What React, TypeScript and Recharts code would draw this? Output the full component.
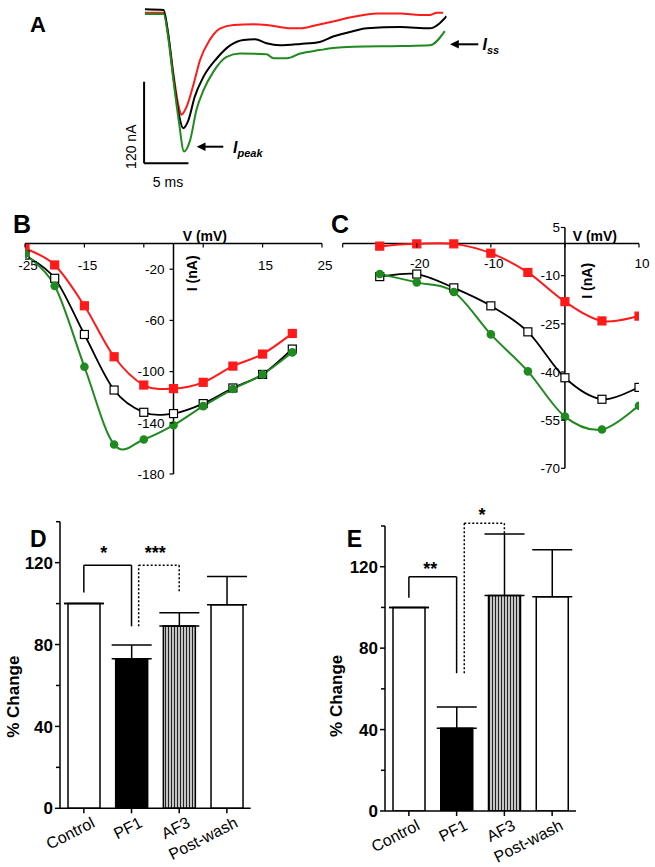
import React from "react"
import { LineChart, Line, XAxis, YAxis, ReferenceLine, ReferenceDot, BarChart, Bar, Cell, ErrorBar } from "recharts"

const FONT = '"Liberation Sans", Arial, Helvetica, sans-serif'
const RED = "#ff1a1a"
const GREEN = "#1f8a1f"

// Panel A: current traces, [time (ms), current (nA)]
const traceRed = [[0, 0], [2.1, 0], [2.6, -30], [3.2, -89], [3.8, -138], [4.1, -150], [4.7, -138], [5.5, -104], [6.2, -70], [7.3, -40], [8.5, -23], [10, -18], [12.2, -17], [13.7, -18], [16.4, -23], [17.5, -23], [19.4, -18], [21.2, -13], [23.5, -6], [26.1, -1], [28.8, -1], [31, -3.4], [32.1, -3.4], [32.9, 0], [33.6, 0]]
const traceBlack = [[0, 4.9], [2.1, 3.9], [2.6, -30], [3.2, -94], [3.8, -148], [4.3, -170], [4.9, -158], [5.6, -124], [6.6, -94], [8.1, -67], [9.6, -48], [11.1, -40], [12.4, -39], [13.7, -45], [15.2, -48], [17.5, -46], [19.7, -43], [21.2, -35], [23.5, -27], [25, -23], [28.8, -21], [32.1, -23], [34, -5]]
const traceGreen = [[0, -2], [2.1, -2], [2.6, -35], [3.2, -99], [3.8, -158], [4.4, -204], [5.1, -187], [5.8, -143], [6.6, -114], [7.7, -87], [9.2, -65], [10.7, -60], [13.7, -61], [14.5, -67], [16, -67], [17.5, -60], [19.7, -55], [21.2, -52], [23.5, -50], [28.8, -49], [32.1, -48], [33.8, -27]]
const SCALE_NA = 120
const SCALE_MS = 5
const scaleCorner = { t: -0.1, i: -221.5 }

// Panel B: I-V, peak current
const bVolt = [-25, -20, -15, -10, -5, 0, 5, 10, 15, 20]
const bRed = [-3.5, -16.7, -48.6, -88.4, -110.5, -113.3, -108.4, -95.7, -86.3, -70.2]
const bBlack = [-9, -27.1, -71, -114.4, -131.8, -132.8, -125, -112.8, -102.2, -82.4]
const bGreen = [-8, -33, -96.2, -157, -153, -141.9, -127, -113.6, -102.2, -85]
const bXTicks = [-25, -15, -5, 5, 15, 25]
const bXLabels = [-25, -15, 15, 25]
const bYTicks = [-20, -60, -100, -140, -180]

// Panel C: I-V, steady-state current
const cVolt = [-25, -20, -15, -10, -5, 0, 5, 10]
const cRed = [-0.8, -0.1, -0.1, -3, -9, -18.1, -24.1, -22.6]
const cBlack = [-10.3, -9.5, -13.8, -19.4, -27.5, -41.8, -48.5, -44.8]
const cGreen = [-9.5, -12.1, -15.1, -28.3, -39.8, -53.9, -57.9, -50.5]
const cXTicks = [-30, -20, -10, 0, 10]
const cXLabels = [-20, -10, 10]
const cYTicks = [5, -10, -25, -40, -55, -70]

// Panels D and E: % change
const groups = ["Control", "PF1", "AF3", "Post-wash"]
const dMean = [100, 73, 89, 99.4]
const dErr = [0, 6.8, 6.5, 13.8]
const eMean = [100, 40.6, 105.8, 105.3]
const eErr = [0, 10.5, 30.3, 23]
// brackets: x in bar index units, y in % change
const dBrackets = [
    { x1: 0, x2: 1, y1: 105.4, top: 118.7, y2: 88.9, dashed: false },
    { x1: 1.15, x2: 2, y1: 88.9, top: 118.7, y2: 105.4, dashed: true },
]
const dStars = [{ x: 0.42, y: 126.5, text: "*" }, { x: 1.5, y: 126.5, text: "***" }]
const eBrackets = [
    { x1: 0, x2: 1, y1: 104.8, top: 115.1, y2: 67.7, dashed: false },
    { x1: 1.16, x2: 2, y1: 67.7, top: 141.4, y2: 136.1, dashed: true },
]
const eStars = [{ x: 0.45, y: 120.7, text: "**" }, { x: 1.53, y: 147.6, text: "*" }]
const barFills = ["#fff", "#000", "url(#vstripes)", "#fff"]
const pctTicks = [0, 20, 40, 60, 80, 100, 120, 140]

// Excel-like smoothed line (uniform Catmull-Rom)
const catmullRom: any = (context: any) => {
    let pts: number[][] = []
    return {
        areaStart() {},
        areaEnd() {},
        lineStart() { pts = [] },
        point(x: number, y: number) { pts.push([+x, +y]) },
        lineEnd() {
            const n = pts.length
            if (!n) return
            context.moveTo(pts[0][0], pts[0][1])
            for (let i = 0; i < n - 1; i++) {
                const p0 = pts[i - 1] || pts[i]
                const p1 = pts[i]
                const p2 = pts[i + 1]
                const p3 = pts[i + 2] || p2
                context.bezierCurveTo(
                    p1[0] + (p2[0] - p0[0]) / 6, p1[1] + (p2[1] - p0[1]) / 6,
                    p2[0] - (p3[0] - p1[0]) / 6, p2[1] - (p3[1] - p1[1]) / 6,
                    p2[0], p2[1])
            }
        },
    }
}

const squareDot = (fill: string, stroke: string) => (p: any) => (
    <rect key={`sq${p.index}`} x={p.cx - 4} y={p.cy - 4} width={8} height={8} fill={fill} stroke={stroke} strokeWidth={1.2} />
)
const circleDot = (p: any) => <circle key={`c${p.index}`} cx={p.cx} cy={p.cy} r={4.3} fill={GREEN} />

function TracePanel() {
    const toRows = (arr: number[][]) => arr.map(([t, i]) => ({ t, i }))
    const series = [
        { data: toRows(traceRed), color: RED },
        { data: toRows(traceBlack), color: "#000" },
        { data: toRows(traceGreen), color: GREEN },
    ]
    const c = scaleCorner
    return (
        <div style={{ position: "absolute", left: 0, top: 0 }}>
            <LineChart width={520} height={200} margin={{ top: 5.9, right: 73.4, bottom: 27.5, left: 136.1 }}>
                <XAxis type="number" dataKey="t" domain={[-1, 34]} allowDataOverflow hide />
                <YAxis type="number" dataKey="i" domain={[-235, 10]} allowDataOverflow hide />
                {series.map((s, k) => (
                    <Line key={k} data={s.data} dataKey="i" type="monotone" stroke={s.color} strokeWidth={2} dot={false} isAnimationActive={false} />
                ))}
                <ReferenceLine segment={[{ x: c.t, y: c.i + SCALE_NA }, { x: c.t, y: c.i }]} stroke="#000" strokeWidth={2} ifOverflow="visible" />
                <ReferenceLine segment={[{ x: c.t, y: c.i }, { x: c.t + SCALE_MS, y: c.i }]} stroke="#000" strokeWidth={2} ifOverflow="visible" />
            </LineChart>
        </div>
    )
}

interface IVProps {
    left: number; top: number; width: number; height: number
    margin: { top: number; right: number; bottom: number; left: number }
    volts: number[]; red: number[]; black: number[]; green: number[]
    xDomain: number[]; yDomain: number[]
    xTicks: number[]; xLabels: number[]; yTicks: number[]
    labelDy: number; yGap: number
}

function IVPanel(props: IVProps) {
    const { left, top, width, height, margin, volts, xDomain, yDomain } = props
    const rows = volts.map((v, k) => ({ v, red: props.red[k], black: props.black[k], green: props.green[k] }))
    const plotW = width - margin.left - margin.right
    const plotH = height - margin.top - margin.bottom
    const axisX = margin.left + plotW * (0 - xDomain[0]) / (xDomain[1] - xDomain[0])
    const axisY = margin.top + plotH * (yDomain[1] - 0) / (yDomain[1] - yDomain[0])
    // the axes themselves take 1px each, so the margins passed to the chart are reduced by it
    const chartMargin = { ...margin, left: margin.left - 1, bottom: margin.bottom - 1 }
    const xTick = (p: any) => (
        <g>
            <line x1={p.x} x2={p.x} y1={axisY} y2={axisY + 4} stroke="#000" strokeWidth={1.2} />
            {props.xLabels.includes(p.payload.value) && (
                <text x={p.x + 3} y={axisY + props.labelDy} textAnchor="middle" fontSize={13.5} fill="#000">{p.payload.value}</text>
            )}
        </g>
    )
    const yTick = (p: any) => (
        <g>
            <line x1={axisX - 4} x2={axisX} y1={p.y} y2={p.y} stroke="#000" strokeWidth={1.2} />
            <text x={axisX - props.yGap} y={p.y} dy="0.35em" textAnchor="end" fontSize={13.5} fill="#000">{p.payload.value}</text>
        </g>
    )
    return (
        <div style={{ position: "absolute", left, top }}>
            <LineChart width={width} height={height} data={rows} margin={chartMargin}>
                <XAxis type="number" dataKey="v" domain={xDomain} ticks={props.xTicks} interval={0} height={1} axisLine={false} tickLine={false} tick={xTick} allowDataOverflow />
                <YAxis type="number" domain={yDomain} ticks={props.yTicks} interval={0} width={1} axisLine={false} tickLine={false} tick={yTick} allowDataOverflow />
                <ReferenceLine y={0} stroke="#000" strokeWidth={1.5} />
                <ReferenceLine x={0} stroke="#000" strokeWidth={1.5} />
                <Line dataKey="red" type={catmullRom} stroke={RED} strokeWidth={2} dot={squareDot(RED, RED)} isAnimationActive={false} />
                <Line dataKey="black" type={catmullRom} stroke="#000" strokeWidth={1.8} dot={squareDot("#fff", "#000")} isAnimationActive={false} />
                <Line dataKey="green" type={catmullRom} stroke={GREEN} strokeWidth={2} dot={circleDot} isAnimationActive={false} />
            </LineChart>
        </div>
    )
}

interface BarProps {
    left: number; top: number; width: number; height: number
    margin: { top: number; right: number; bottom: number; left: number }
    means: number[]; errs: number[]
    brackets: { x1: number; x2: number; y1: number; top: number; y2: number; dashed: boolean }[]
    stars: { x: number; y: number; text: string }[]
}

function BarPanel(props: BarProps) {
    const { left, top, width, height, margin } = props
    const rows = groups.map((name, k) => ({ name, pos: k, mean: props.means[k], err: [0, props.errs[k]] }))
    const axisY = height - margin.bottom
    const axisX = margin.left
    const halfBand = (width - margin.left - margin.right) / groups.length / 2
    const chartMargin = { ...margin, left: margin.left - 1, bottom: margin.bottom - 1 }
    const axisStyle = { stroke: "#000", strokeWidth: 1.5 }
    const xTick = (p: any) => (
        <g>
            <line x1={p.x} x2={p.x} y1={axisY} y2={axisY + 5} stroke="#000" strokeWidth={1.5} />
            <text x={p.x + 12} y={axisY + 18} textAnchor="end" fontSize={16} fill="#000" transform={`rotate(-27 ${p.x + 12} ${axisY + 18})`}>{p.payload.value}</text>
        </g>
    )
    const yTick = (p: any) => {
        const major = p.payload.value % 40 === 0
        return (
            <g>
                <line x1={axisX - (major ? 5 : 4)} x2={axisX} y1={p.y} y2={p.y} stroke="#000" strokeWidth={1.5} />
                {major && <text x={axisX - 7} y={p.y} dy="0.36em" textAnchor="end" fontSize={17} fontWeight="bold" fill="#000">{p.payload.value}</text>}
            </g>
        )
    }
    const starLabel = (text: string) => (lp: any) => {
        const vb = lp.viewBox
        return <text x={vb.x + vb.width / 2} y={vb.y + vb.height / 2 + 10} textAnchor="middle" fontSize={18} fontWeight="bold" fill="#000">{text}</text>
    }
    return (
        <div style={{ position: "absolute", left, top }}>
            <BarChart width={width} height={height} data={rows} margin={chartMargin}>
                <XAxis xAxisId="cat" dataKey="name" height={1} interval={0} axisLine={axisStyle} tickLine={false} tick={xTick} />
                <XAxis xAxisId="n" dataKey="pos" type="number" domain={[0, groups.length - 1]} padding={{ left: halfBand, right: halfBand }} allowDataOverflow hide />
                <YAxis domain={[0, 140]} ticks={pctTicks} interval={0} width={1} allowDataOverflow axisLine={axisStyle} tickLine={false} tick={yTick} />
                <Bar xAxisId="cat" dataKey="mean" barSize={32} stroke="#000" strokeWidth={1.5} isAnimationActive={false}>
                    {rows.map((r, k) => <Cell key={r.name} fill={barFills[k]} />)}
                    <ErrorBar dataKey="err" direction="y" width={20} stroke="#000" strokeWidth={1.5} />
                </Bar>
                {props.brackets.flatMap((b, k) => {
                    const st = { stroke: "#000", strokeWidth: 1.5, strokeDasharray: b.dashed ? "2 2" : undefined }
                    return [
                        <ReferenceLine key={`l${k}`} xAxisId="n" segment={[{ x: b.x1, y: b.y1 }, { x: b.x1, y: b.top }]} ifOverflow="visible" {...st} />,
                        <ReferenceLine key={`t${k}`} xAxisId="n" segment={[{ x: b.x1, y: b.top }, { x: b.x2, y: b.top }]} ifOverflow="visible" {...st} />,
                        <ReferenceLine key={`r${k}`} xAxisId="n" segment={[{ x: b.x2, y: b.top }, { x: b.x2, y: b.y2 }]} ifOverflow="visible" {...st} />,
                    ]
                })}
                {props.stars.map((s, k) => (
                    <ReferenceDot key={`s${k}`} xAxisId="n" x={s.x} y={s.y} r={1} fill="none" stroke="none" ifOverflow="visible" label={starLabel(s.text)} />
                ))}
            </BarChart>
        </div>
    )
}

function Overlay() {
    const bold = { fontWeight: "bold" as const }
    return (
        <svg width={655} height={867} style={{ position: "absolute", left: 0, top: 0, pointerEvents: "none" }}>
            <defs>
                <pattern id="vstripes" width={3} height={10} patternUnits="userSpaceOnUse">
                    <rect width={3} height={10} fill="#c4c4c4" />
                    <rect width={1} height={10} fill="#222" />
                </pattern>
            </defs>
            {/* A */}
            <text x={30} y={32} fontSize={22} {...bold}>A</text>
            <text transform="translate(136,146.7) rotate(-90)" textAnchor="middle" fontSize={14}>120 nA</text>
            <text x={168} y={186.5} textAnchor="middle" fontSize={14}>5 ms</text>
            <line x1={204} x2={223.3} y1={146.7} y2={146.7} stroke="#000" strokeWidth={2} />
            <polygon points="196.7,146.7 205.5,142.4 205.5,151" fill="#000" />
            <text x={233} y={153.3} fontSize={16} fontStyle="italic" {...bold}>I<tspan dy={4} fontSize={11}>peak</tspan></text>
            <line x1={457} x2={478.3} y1={44.3} y2={44.3} stroke="#000" strokeWidth={2} />
            <polygon points="450,44.3 458.8,40 458.8,48.6" fill="#000" />
            <text x={482.5} y={50} fontSize={16} fontStyle="italic" {...bold}>I<tspan dy={3.5} fontSize={11}>ss</tspan></text>
            {/* B */}
            <text x={13} y={233} fontSize={25} {...bold}>B</text>
            <text x={182.7} y={241} fontSize={14} {...bold}>V (mV)</text>
            <text transform="translate(197,273.3) rotate(-90)" textAnchor="middle" fontSize={14} {...bold}>I (nA)</text>
            {/* C */}
            <text x={331} y={233} fontSize={25} {...bold}>C</text>
            <text x={572.7} y={241} fontSize={14} {...bold}>V (mV)</text>
            <text transform="translate(592,280.8) rotate(-90)" textAnchor="middle" fontSize={14} {...bold}>I (nA)</text>
            {/* D */}
            <text x={30} y={546.7} fontSize={23} {...bold}>D</text>
            <text transform="translate(19,696.7) rotate(-90)" textAnchor="middle" fontSize={17} {...bold}>% Change</text>
            {/* E */}
            <text x={346.7} y={546.7} fontSize={23} {...bold}>E</text>
            <text transform="translate(342,695.8) rotate(-90)" textAnchor="middle" fontSize={17} {...bold}>% Change</text>
        </svg>
    )
}

export default function App() {
    return (
        <div style={{ position: "absolute", left: 0, top: 0, width: 655, height: 867, background: "#fff", fontFamily: FONT, color: "#000" }}>
            <TracePanel />
            <IVPanel
                left={0} top={200} width={340} height={290}
                margin={{ top: 43.6, right: 18, bottom: 16, left: 25 }}
                volts={bVolt} red={bRed} black={bBlack} green={bGreen}
                xDomain={[-25, 25]} yDomain={[-180, 0]}
                xTicks={bXTicks} xLabels={bXLabels} yTicks={bYTicks}
                labelDy={26} yGap={9}
            />
            <IVPanel
                left={330} top={200} width={325} height={290}
                margin={{ top: 27.5, right: 16, bottom: 21.7, left: 12.7 }}
                volts={cVolt} red={cRed} black={cBlack} green={cGreen}
                xDomain={[-30, 10]} yDomain={[-70, 5]}
                xTicks={cXTicks} xLabels={cXLabels} yTicks={cYTicks}
                labelDy={24} yGap={5}
            />
            <BarPanel
                left={0} top={480} width={330} height={387}
                margin={{ top: 41.7, right: 79.3, bottom: 58.7, left: 60 }}
                means={dMean} errs={dErr} brackets={dBrackets} stars={dStars}
            />
            <BarPanel
                left={330} top={480} width={325} height={387}
                margin={{ top: 46, right: 79, bottom: 56, left: 55 }}
                means={eMean} errs={eErr} brackets={eBrackets} stars={eStars}
            />
            <Overlay />
        </div>
    )
}
